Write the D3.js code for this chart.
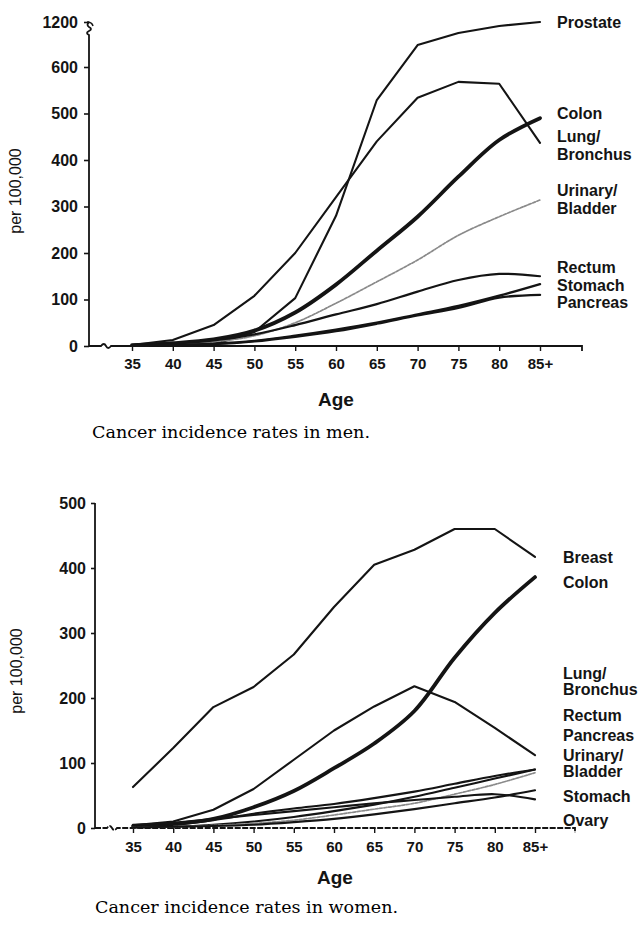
<!DOCTYPE html>
<html><head><meta charset="utf-8">
<script src="https://cdn.jsdelivr.net/npm/d3@7"></script>
<style>body{margin:0;background:#fff}</style>
</head><body><svg id="c" width="641" height="926"></svg>
<script>
// ---------- data ----------
const ageLabels = ["35","40","45","50","55","60","65","70","75","80","85+"];

const menTicks = [0,100,200,300,400,500,600,1200];
const menProstate = [0, 1, 4, 30, 103, 280, 529, 893, 1053, 1147, 1200];
const menLung     = [2, 13, 45, 108, 200, 320, 440, 534, 568, 564, 437];
const menColon    = [2, 6, 14, 33, 72, 132, 205, 278, 364, 443, 490];
const menBladder  = [1, 3, 9, 22, 50, 92, 138, 185, 238, 278, 314];
const menRectum   = [2, 5, 12, 25, 45, 68, 90, 117, 142, 155, 150];
const menStomach  = [1, 2, 5, 11, 22, 35, 50, 68, 86, 108, 133];
const menPancreas = [1, 2, 4, 10, 20, 32, 48, 66, 82, 104, 110];

const womenTicks = [0,100,200,300,400,500];
const womenBreast   = [63, 123, 186, 217, 267, 340, 405, 428, 460, 460, 417];
const womenColon    = [3, 6, 14, 32, 57, 92, 130, 180, 262, 331, 386];
const womenLung     = [4, 10, 28, 60, 105, 150, 187, 218, 194, 154, 112];
const womenRectum   = [2, 5, 12, 22, 30, 37, 46, 56, 68, 80, 90];
const womenPancreas = [1, 2, 5, 10, 17, 26, 36, 48, 62, 76, 90];
const womenBladder  = [1, 2, 4, 7, 12, 20, 29, 38, 52, 67, 85];
const womenStomach  = [1, 2, 3, 5, 9, 14, 21, 29, 38, 47, 58];
const womenOvary    = [5, 8, 14, 20, 26, 32, 38, 43, 48, 52, 44];

const menNames   = [["Prostate"],["Colon"],["Lung/","Bronchus"],["Urinary/","Bladder"],["Rectum"],["Stomach"],["Pancreas"]];
const womenNames = [["Breast"],["Colon"],["Lung/","Bronchus"],["Rectum"],["Pancreas"],["Urinary/","Bladder"],["Stomach"],["Ovary"]];

// ---------- layout ----------
const svg = d3.select("#c");
svg.append("rect").attr("width",641).attr("height",926).attr("fill","#fff");
const SANS = "'Liberation Sans', Arial, Helvetica, sans-serif";
const INK = "#141414";

const solid = (w, smooth)=>({w, color:INK, dash:null, smooth:!!smooth});
const dashed = {w:1.7, color:"#8a8a8a", dash:"3,1.5", smooth:true};

function panel(cfg){
  const x = d3.scalePoint().domain(ageLabels).range(cfg.xRange);
  const y = d3.scaleLinear().domain(cfg.yDomain).range(cfg.yRange);
  const g = svg.append("g");
  const ax = cfg.axisX, ay = y(0);

  const ya = g.append("g").attr("transform",`translate(${ax},0)`)
    .call(d3.axisLeft(y).tickValues(cfg.yTicks).tickFormat(d3.format("d"))
      .tickSize(cfg.yTickSize).tickPadding(cfg.yPad));
  ya.select(".domain").remove();
  ya.selectAll("line").attr("stroke",INK).attr("stroke-width",1.6);
  ya.selectAll("text").attr("font-family",SANS).attr("font-weight","bold")
    .attr("font-size",16).attr("fill",INK);

  const xa = g.append("g").attr("transform",`translate(0,${ay})`)
    .call(d3.axisBottom(x).tickSize(5).tickPadding(cfg.xPad));
  xa.select(".domain").remove();
  xa.selectAll("line").attr("stroke",INK).attr("stroke-width",1.4);
  xa.selectAll("text").attr("font-family",SANS).attr("font-weight","bold")
    .attr("font-size",15).attr("fill",INK);

  const top = y(cfg.yDomain[cfg.yDomain.length-1]);
  let yPath = `M${ax},${ay}V${top}`;
  if (cfg.yBreak){
    yPath = `M${ax},${ay}V${top+13}q-4,-2 0,-4q4,-2 0,-4q-3,-2 0,-5`;
  }
  g.append("path").attr("d",yPath).attr("fill","none").attr("stroke",INK).attr("stroke-width",1.8);
  if (cfg.yBreak){
    g.append("path").attr("d",`M${ax-2},${top}q5,0 6,4`).attr("fill","none").attr("stroke",INK).attr("stroke-width",1.5);
  }
  const bx = ax+12;
  g.append("path")
    .attr("d",`M${ax},${ay}H${bx}q3,-4 5,0q2,4 5,0H${cfg.axisEnd}v5`)
    .attr("fill","none").attr("stroke",INK).attr("stroke-width",1.8)
    .attr("stroke-dasharray", cfg.xDash || null);

  const lineStraight = d3.line().x((d,i)=>x(ageLabels[i])).y(d=>y(d)).curve(d3.curveLinear);
  const lineSmooth = d3.line().x((d,i)=>x(ageLabels[i])).y(d=>y(d)).curve(d3.curveCatmullRom.alpha(0.5));
  cfg.series.forEach(s=>{
    g.append("path").datum(s.values).attr("d", s.style.smooth ? lineSmooth : lineStraight).attr("fill","none")
      .attr("stroke",s.style.color).attr("stroke-width",s.style.w)
      .attr("stroke-dasharray",s.style.dash).attr("stroke-linejoin","round").attr("stroke-linecap","round");
  });

  cfg.names.forEach((nm,i)=>{
    const t = g.append("text").attr("y",y(cfg.labelAt[i]))
      .attr("font-family",SANS).attr("font-weight","bold").attr("font-size",16).attr("fill",INK);
    nm.forEach((w,j)=>t.append("tspan").attr("x",cfg.labelX).attr("dy", j===0? "0.35em" : cfg.lineH).text(w));
  });

  g.append("text").attr("transform",`translate(${cfg.yTitleX},${cfg.yTitleY}) rotate(-90)`)
    .attr("text-anchor","middle").attr("font-family",SANS).attr("font-size",16).attr("fill",INK)
    .text("per 100,000");
  g.append("text").attr("x",cfg.ageX).attr("y",cfg.ageY).attr("text-anchor","middle")
    .attr("font-family",SANS).attr("font-weight","bold").attr("font-size",19).attr("fill",INK).text("Age");
  g.append("text").attr("x",cfg.capX).attr("y",cfg.capY)
    .attr("font-family","'DejaVu Serif', serif").attr("font-size",16).attr("fill","#000")
    .attr("textLength",cfg.capW).attr("lengthAdjust","spacingAndGlyphs").text(cfg.caption);
}

panel({
  xRange:[132,540], yDomain:[0,600,1200], yRange:[346,67,22], yTicks:menTicks,
  axisX:89, axisEnd:582, yTickSize:5, yPad:6, xPad:7, yBreak:true,
  series:[
    {values:menProstate, style:solid(2.1)},
    {values:menLung, style:solid(2.1)},
    {values:menColon, style:solid(3.8, true)},
    {values:menBladder, style:dashed},
    {values:menRectum, style:solid(2.2, true)},
    {values:menStomach, style:solid(2.4, true)},
    {values:menPancreas, style:solid(2.4, true)}
  ],
  names:menNames, labelAt:[1200,501,450,334,170,131,93], labelX:557, lineH:"18px",
  yTitleX:21, yTitleY:191, ageX:336, ageY:406,
  capX:92, capY:438, capW:278, caption:"Cancer incidence rates in men."
});

panel({
  xRange:[133,535], yDomain:[0,500], yRange:[828,503], yTicks:womenTicks,
  axisX:95, axisEnd:575, yTickSize:4, yPad:5, xPad:8, yBreak:false, xDash:"6,1.5",
  series:[
    {values:womenBreast, style:solid(2.1)},
    {values:womenColon, style:solid(3.8, true)},
    {values:womenLung, style:solid(2.1)},
    {values:womenRectum, style:solid(2.1, true)},
    {values:womenPancreas, style:solid(2.1, true)},
    {values:womenBladder, style:dashed},
    {values:womenStomach, style:solid(2.1, true)},
    {values:womenOvary, style:solid(2.1, true)}
  ],
  names:womenNames, labelAt:[417,378,238,174,142,112,49,11], labelX:563, lineH:"16px",
  yTitleX:22, yTitleY:671, ageX:335, ageY:884,
  capX:95, capY:913, capW:303, caption:"Cancer incidence rates in women."
});
</script></body></html>
